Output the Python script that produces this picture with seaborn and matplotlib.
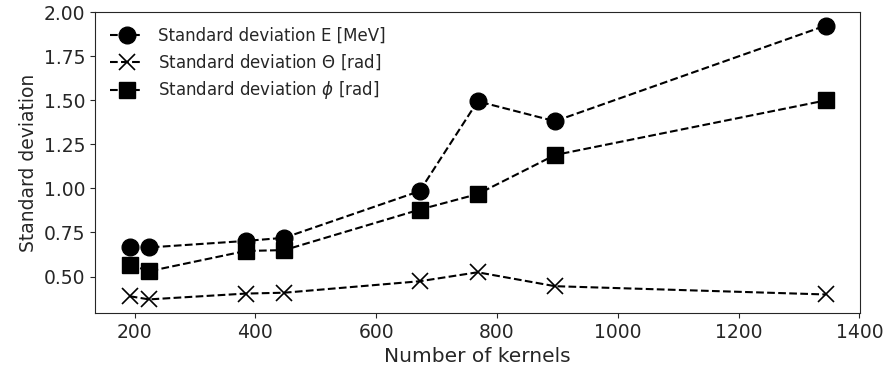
import matplotlib
matplotlib.use("Agg")
import matplotlib.pyplot as plt
import seaborn as sns
import pandas as pd

kernels = [192, 224, 384, 448, 672, 768, 896, 1344]
std_E = [0.667, 0.665, 0.702, 0.720, 0.985, 1.495, 1.382, 1.925]
std_theta = [0.388, 0.370, 0.403, 0.408, 0.473, 0.524, 0.445, 0.398]
std_phi = [0.568, 0.530, 0.645, 0.650, 0.880, 0.968, 1.190, 1.500]
labels = ["Standard deviation E [MeV]", r"Standard deviation $\Theta$ [rad]",
          r"Standard deviation $\phi$ [rad]"]

sns.set_style("ticks")
plt.rcParams["font.family"] = ["DejaVu Sans"]

fig = plt.figure(figsize=(8.87, 3.74), dpi=100)
ax = fig.add_axes([0.107, 0.163, 0.863, 0.805])

specs = [(std_E, "o", 12, labels[0]), (std_theta, "x", 12, labels[1]), (std_phi, "s", 11, labels[2])]
for vals, mk, ms, lab in specs:
    df = pd.DataFrame({"k": kernels, "v": vals})
    sns.lineplot(data=df, x="k", y="v", ax=ax, color="black", linestyle="--",
                 marker=mk, markersize=ms, label=lab, markeredgecolor="black",
                 markeredgewidth=1.2 if mk == "x" else 1.0, linewidth=1.5)

for s in ax.spines.values():
    s.set_visible(True)
ax.set_xlabel("Number of kernels", fontsize=14.5)
ax.set_ylabel("Standard deviation", fontsize=13.5)
ax.tick_params(labelsize=13.5, direction="out")
ax.set_xticks([200, 400, 600, 800, 1000, 1200, 1400])
ax.set_yticks([0.5, 0.75, 1.0, 1.25, 1.5, 1.75, 2.0])
ax.set_yticklabels(["0.50", "0.75", "1.00", "1.25", "1.50", "1.75", "2.00"])
ax.set_xlim(134.4, 1401.6)
ax.set_ylim(0.2925, 2.0025)
ax.legend(loc="upper left", fontsize=12, frameon=False, labelspacing=0.45,
          borderaxespad=0.5, handletextpad=0.9)

fig.savefig("out.png", dpi=100)
